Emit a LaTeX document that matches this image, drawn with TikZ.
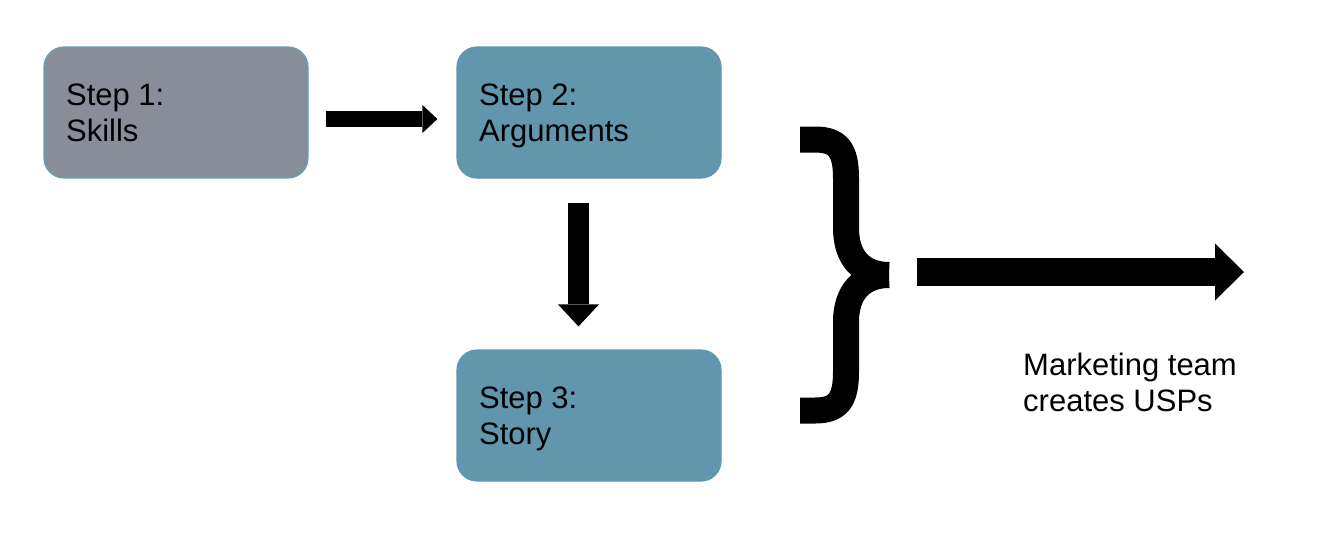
\documentclass[tikz,border=0pt]{standalone}
\usepackage{fontspec}
\setmainfont{Liberation Sans}
\usetikzlibrary{arrows.meta,calc}
\definecolor{stepgray}{HTML}{878E99}
\definecolor{stepteal}{HTML}{6296AD}
\definecolor{stepedge}{HTML}{6A9FB5}
\tikzset{
  stepbox/.style={rectangle, rounded corners=20pt, minimum width=264pt, minimum height=131pt, inner sep=0pt, line width=1.2pt},
  steptext/.style={anchor=base west, inner sep=0pt, align=left, font=\fontsize{31}{36}\selectfont},
}
\begin{document}
\begin{tikzpicture}[x=1pt,y=-1pt]
\useasboundingbox (0,0) rectangle (1334,550);
\fill[white] (0,0) rectangle (1334,550);
% boxes
\node[stepbox, fill=stepgray, draw=stepedge] (b1) at (176,112.5) {};
\node[stepbox, fill=stepteal, draw=stepteal] (b2) at (589,112.5) {};
\node[stepbox, fill=stepteal, draw=stepteal] (b3) at (589,415.5) {};
% texts (base anchor = baseline of the last line)
\node[steptext] (t1) at ($(b1.north west)+(22.5,95)$) {Step 1:\\Skills};
\node[steptext] (t2) at ($(b2.north west)+(22.5,95)$) {Step 2:\\Arguments};
\node[steptext] (t3) at ($(b3.north west)+(22.5,95)$) {Step 3:\\Story};
\node[steptext] (mt) at (1023,411) {Marketing team\\creates USPs};
% arrows
\draw[line width=16pt, -{Triangle[width=28pt,length=15pt,line width=0pt]}]
  ($(b1.east)+(17,6.5)$) -- ($(b2.west)+(-19,6.5)$);
\draw[line width=21pt, -{Triangle[width=41pt,length=22pt,line width=0pt]}]
  ($(b2.south)+(-10.5,24)$) -- ($(b3.north)+(-10.5,-23)$);
% brace
\coordinate (btip) at (889,275);
\coordinate (uspend) at (1244,272);
\draw[line width=26pt]
  (800,139.5) -- (815,139.5) .. controls (838,139.5) and (846,150) .. (846,178)
  -- (846,228) .. controls (846,258) and (862,275) .. (btip);
\draw[line width=26pt]
  (800,410.5) -- (815,410.5) .. controls (838,410.5) and (846,400) .. (846,372)
  -- (846,322) .. controls (846,292) and (862,275) .. (btip);
\draw[line width=28pt, -{Triangle[width=57pt,length=29pt,line width=0pt]}]
  ($(btip)+(28,-3)$) -- (uspend);
\end{tikzpicture}
\end{document}
